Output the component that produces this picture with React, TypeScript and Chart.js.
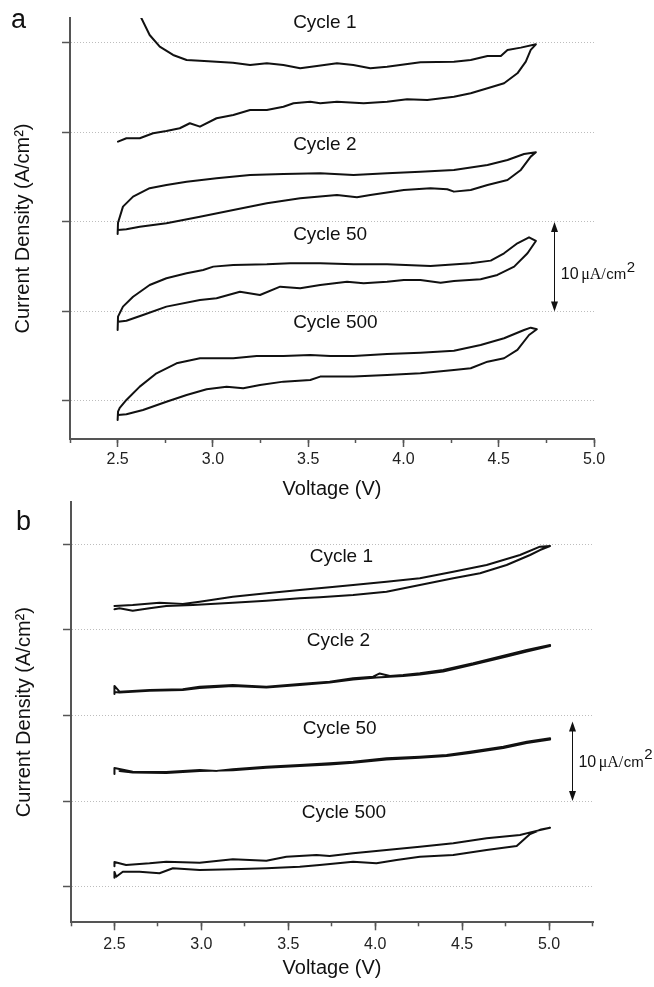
import React, { useEffect, useRef } from 'react';
import { Chart, registerables } from 'chart.js';

Chart.register(...registerables);

const SANS = '"Liberation Sans", Arial, Helvetica, sans-serif';
const SERIF = '"Liberation Serif", "Times New Roman", serif';
const LINE = '#111111';
const AXIS = '#555555';

// ---------- Panel a (voltage V, current density µA/cm² offset per cycle) ----------
const aCycle1V = [2.603, 2.625, 2.668, 2.721, 2.791, 2.862, 2.932, 3.019, 3.105, 3.195, 3.283, 3.37, 3.458, 3.546, 3.651, 3.737, 3.826, 3.914, 4.089, 4.265, 4.353, 4.441, 4.511, 4.546, 4.616, 4.695,
  4.668, 4.642, 4.598, 4.528, 4.441, 4.353, 4.265, 4.125, 4.019, 3.914, 3.791, 3.651, 3.563, 3.511, 3.423, 3.37, 3.283, 3.195, 3.107, 3.019, 2.932, 2.879, 2.826, 2.756, 2.686, 2.616, 2.546, 2.502];
const aCycle1I = [43.7, 42.76, 40.89, 39.59, 38.66, 38.1, 38.02, 37.91, 37.8, 37.54, 37.73, 37.54, 37.17, 37.43, 37.73, 37.54, 37.17, 37.35, 37.84, 37.91, 38.1, 38.55, 38.55, 39.22, 39.48, 39.85,
  39.22, 37.91, 36.61, 35.5, 34.94, 34.38, 34.0, 33.63, 33.71, 33.44, 33.26, 33.44, 33.26, 33.44, 33.26, 32.88, 32.51, 32.51, 31.96, 31.59, 30.65, 31.03, 30.47, 30.17, 29.91, 29.35, 29.35, 28.97];

const aCycle2V = [2.5, 2.502, 2.528, 2.581, 2.668, 2.756, 2.862, 3.019, 3.195, 3.37, 3.563, 3.738, 3.914, 4.089, 4.265, 4.441, 4.546, 4.633, 4.695,
  4.668, 4.616, 4.546, 4.441, 4.353, 4.265, 4.23, 4.142, 4.002, 3.826, 3.756, 3.651, 3.458, 3.283, 3.107, 2.932, 2.756, 2.616, 2.546, 2.502];
const aCycle2I = [18.66, 19.92, 21.71, 22.83, 23.77, 24.13, 24.5, 24.88, 25.25, 25.36, 25.44, 25.25, 25.44, 25.62, 25.81, 26.37, 26.93, 27.6, 27.79,
  27.3, 25.81, 24.69, 24.13, 23.58, 23.39, 23.65, 23.77, 23.58, 23.02, 22.76, 23.02, 22.65, 22.08, 21.34, 20.59, 19.85, 19.47, 19.18, 19.11];

const aCycle50V = [2.5, 2.502, 2.528, 2.581, 2.668, 2.756, 2.862, 2.949, 3.002, 3.107, 3.283, 3.405, 3.563, 3.738, 3.914, 4.142, 4.353, 4.458, 4.528, 4.598, 4.659, 4.695,
  4.651, 4.581, 4.493, 4.405, 4.265, 4.195, 4.089, 4.002, 3.914, 3.791, 3.704, 3.563, 3.458, 3.353, 3.247, 3.142, 3.019, 2.932, 2.756, 2.633, 2.546, 2.502];
const aCycle50I = [7.93, 9.42, 10.54, 11.65, 12.96, 13.71, 14.27, 14.64, 15.01, 15.2, 15.27, 15.39, 15.39, 15.27, 15.27, 15.08, 15.39, 15.68, 16.5, 17.62, 18.29, 17.88,
  16.5, 15.01, 14.08, 13.6, 13.41, 13.22, 13.52, 13.52, 13.33, 13.15, 13.33, 12.96, 12.59, 12.77, 11.84, 12.21, 11.47, 11.28, 10.54, 9.61, 8.97, 8.86];

const aCycle500V = [2.5, 2.502, 2.511, 2.546, 2.616, 2.704, 2.809, 2.932, 3.107, 3.23, 3.37, 3.511, 3.616, 3.738, 3.914, 4.089, 4.265, 4.405, 4.528, 4.633, 4.668, 4.7,
  4.659, 4.598, 4.528, 4.441, 4.353, 4.265, 4.089, 3.914, 3.738, 3.563, 3.511, 3.37, 3.247, 3.159, 3.072, 2.967, 2.862, 2.756, 2.633, 2.546, 2.502];
const aCycle500I = [-2.12, -1.2, -0.78, 0.11, 1.6, 3.09, 4.21, 4.77, 4.77, 5.03, 5.03, 5.14, 5.03, 5.03, 5.25, 5.4, 5.62, 6.26, 7.01, 7.93, 8.19, 8.01,
  7.37, 5.7, 4.77, 4.39, 3.65, 3.46, 3.09, 2.91, 2.72, 2.72, 2.35, 2.16, 1.79, 1.42, 1.6, 1.31, 0.67, -0.08, -1.01, -1.49, -1.56];

// ---------- Panel b ----------
const bCycle1V = [2.5, 2.605, 2.759, 2.893, 2.99, 3.181, 3.374, 3.566, 3.738, 3.873, 4.065, 4.257, 4.449, 4.641, 4.833, 4.948, 5.006,
  4.948, 4.891, 4.756, 4.603, 4.449, 4.257, 4.065, 3.873, 3.681, 3.566, 3.374, 3.181, 2.951, 2.798, 2.702, 2.605, 2.529, 2.5];
const bCycle1I = [32.79, 32.91, 33.18, 33.03, 33.29, 33.88, 34.28, 34.66, 34.98, 35.25, 35.63, 36.03, 36.8, 37.58, 38.75, 39.72, 39.8,
  39.33, 38.75, 37.58, 36.61, 36.03, 35.25, 34.46, 34.08, 33.81, 33.69, 33.41, 33.18, 32.91, 32.79, 32.52, 32.24, 32.52, 32.41];

const bCycle2V = [2.5, 2.5, 2.529, 2.702, 2.893, 2.99, 3.181, 3.374, 3.566, 3.738, 3.873, 3.988, 4.026, 4.084, 4.161, 4.257, 4.391, 4.564, 4.756, 4.872, 5.006,
  5.006, 4.872, 4.756, 4.564, 4.391, 4.257, 4.161, 4.007, 3.873, 3.738, 3.566, 3.374, 3.181, 2.99, 2.893, 2.702, 2.529, 2.5];
const bCycle2I = [22.51, 23.45, 22.78, 22.98, 23.06, 23.36, 23.56, 23.36, 23.68, 23.95, 24.35, 24.53, 24.91, 24.61, 24.73, 24.93, 25.32, 26.1, 27.07, 27.65, 28.24,
  28.12, 27.48, 26.89, 25.96, 25.14, 24.79, 24.61, 24.44, 24.21, 23.86, 23.57, 23.27, 23.45, 23.21, 22.98, 22.88, 22.69, 22.74];

const bCycle50V = [2.5, 2.5, 2.605, 2.798, 2.99, 3.086, 3.181, 3.374, 3.566, 3.738, 3.873, 4.065, 4.257, 4.411, 4.545, 4.737, 4.872, 5.006,
  5.006, 4.872, 4.737, 4.545, 4.411, 4.257, 4.065, 3.873, 3.738, 3.566, 3.374, 3.181, 2.99, 2.798, 2.605, 2.529];
const bCycle50I = [13.17, 13.87, 13.43, 13.4, 13.63, 13.52, 13.71, 14.02, 14.22, 14.42, 14.6, 15.0, 15.19, 15.39, 15.77, 16.36, 16.94, 17.34,
  17.2, 16.79, 16.2, 15.62, 15.27, 15.06, 14.86, 14.47, 14.27, 14.1, 13.89, 13.6, 13.52, 13.29, 13.34, 13.52];

const bCycle500V = [2.5, 2.5, 2.567, 2.702, 2.798, 2.99, 3.181, 3.374, 3.489, 3.662, 3.738, 3.873, 4.065, 4.257, 4.449, 4.641, 4.833, 4.91, 5.006,
  4.954, 4.891, 4.814, 4.641, 4.449, 4.257, 4.123, 4.007, 3.873, 3.681, 3.566, 3.374, 3.181, 2.99, 2.836, 2.759, 2.644, 2.548, 2.51, 2.5, 2.5];
const bCycle500I = [2.4, 2.88, 2.54, 2.73, 2.92, 2.8, 3.2, 3.04, 3.5, 3.7, 3.59, 3.9, 4.29, 4.67, 5.07, 5.65, 6.04, 6.43, 6.89,
  6.68, 6.16, 4.75, 4.29, 3.7, 3.5, 3.12, 2.73, 2.92, 2.54, 2.34, 2.15, 2.03, 1.95, 2.15, 1.57, 1.75, 1.75, 1.17, 1.72, 1.05];

// ---------- annotations (data coordinates) ----------
const cycleNames = ['Cycle 1', 'Cycle 2', 'Cycle 50', 'Cycle 500'];
const aLabelV = [3.421, 3.421, 3.421, 3.421];
const aLabelI = [42.29, 28.6, 18.6, 8.7];
const bLabelV = [3.623, 3.606, 3.583, 3.577];
const bLabelI = [38.6, 28.7, 18.5, 8.6];
const aScaleBar = { v: 4.789, low: 10, high: 20, textV: 4.826, textI: 13.58 };
const bScaleBar = { v: 5.131, low: 10, high: 19.3, textV: 5.169, textI: 14.02 };

const xTitle = 'Voltage (V)';
const yTitle = 'Current Density (A/cm²)';

type PanelCfg = {
  letter: string; letterX: number; letterY: number;
  cycles: { v: number[]; i: number[] }[];
  xMin: number; xMax: number; yMin: number; yMax: number;
  labelV: number[]; labelI: number[];
  bar: { v: number; low: number; high: number; textV: number; textI: number };
  padTop: number; padRight: number; yAxisWidth: number; xAxisHeight: number;
  xTitlePadBottom: number; tickPad: number; yTitlePad: number;
};

function makeAnnotations(p: PanelCfg) {
  return {
    id: 'cvAnnotations',
    afterDraw(chart: any) {
      const ctx: CanvasRenderingContext2D = chart.ctx;
      const xs = chart.scales.x;
      const ys = chart.scales.y;
      ctx.save();
      ctx.fillStyle = '#111';
      // panel letter
      ctx.font = `27px ${SANS}`;
      ctx.textAlign = 'left';
      ctx.textBaseline = 'alphabetic';
      ctx.fillText(p.letter, p.letterX, p.letterY);
      // cycle labels
      ctx.font = `19px ${SANS}`;
      ctx.textBaseline = 'middle';
      cycleNames.forEach((name, k) => {
        ctx.fillText(name, xs.getPixelForValue(p.labelV[k]), ys.getPixelForValue(p.labelI[k]));
      });
      // scale bar arrow
      const x = Math.round(xs.getPixelForValue(p.bar.v)) + 0.5;
      const yTop = ys.getPixelForValue(p.bar.high);
      const yBot = ys.getPixelForValue(p.bar.low);
      ctx.strokeStyle = '#111';
      ctx.lineWidth = 1;
      ctx.beginPath();
      ctx.moveTo(x, yTop + 5);
      ctx.lineTo(x, yBot - 5);
      ctx.stroke();
      ctx.beginPath();
      ctx.moveTo(x, yTop);
      ctx.lineTo(x - 3.5, yTop + 10);
      ctx.lineTo(x + 3.5, yTop + 10);
      ctx.closePath();
      ctx.fill();
      ctx.beginPath();
      ctx.moveTo(x, yBot);
      ctx.lineTo(x - 3.5, yBot - 10);
      ctx.lineTo(x + 3.5, yBot - 10);
      ctx.closePath();
      ctx.fill();
      // scale bar text
      let tx = xs.getPixelForValue(p.bar.textV);
      const ty = ys.getPixelForValue(p.bar.textI);
      ctx.textBaseline = 'alphabetic';
      const parts: [string, string, number, number][] = [
        ['10', `16px ${SANS}`, 0, 2.5],
        ['\u03bcA/', `16px ${SERIF}`, 0, 0.5],
        ['cm', `15px ${SANS}`, 0, 0.5],
        ['2', `15px ${SANS}`, -7.5, 0],
      ];
      parts.forEach(([t, f, dy, gap]) => {
        ctx.font = f;
        ctx.fillText(t, tx, ty + dy);
        tx += ctx.measureText(t).width + gap;
      });
      ctx.restore();
    },
  };
}

function buildConfig(p: PanelCfg): any {
  const datasets = p.cycles.map((c) => ({
    data: c.v.map((v, k) => ({ x: v, y: c.i[k] })),
    showLine: true,
    pointRadius: 0,
    pointHoverRadius: 0,
    borderColor: LINE,
    borderWidth: 2,
    borderJoinStyle: 'round',
    borderCapStyle: 'round',
    tension: 0,
    fill: false,
  }));
  const tickFont = { family: SANS, size: 16 };
  const titleFont = { family: SANS, size: 20 };
  return {
    type: 'scatter',
    data: { datasets },
    options: {
      responsive: false,
      animation: false,
      events: [],
      layout: { padding: { top: p.padTop, right: p.padRight, left: 0, bottom: 0 } },
      plugins: { legend: { display: false }, tooltip: { enabled: false } },
      scales: {
        x: {
          type: 'linear',
          position: 'bottom',
          weight: 1,
          min: p.xMin,
          max: p.xMax,
          ticks: {
            stepSize: 0.5,
            includeBounds: false,
            autoSkip: false,
            maxRotation: 0,
            padding: p.tickPad,
            color: '#222',
            font: tickFont,
            callback: (v: any) => Number(v).toFixed(1),
          },
          grid: { drawOnChartArea: false, drawTicks: true, tickLength: 8, tickColor: AXIS, tickWidth: 1.5, color: AXIS },
          border: { display: true, color: AXIS, width: 2 },
          title: { display: true, text: xTitle, color: '#111', font: titleFont, padding: { top: 0, bottom: p.xTitlePadBottom } },
          afterFit: (s: any) => { s.height = p.xAxisHeight; },
        },
        x2: {
          type: 'linear',
          position: 'bottom',
          weight: 0,
          min: p.xMin,
          max: p.xMax,
          ticks: { display: false, stepSize: 0.25, includeBounds: false, autoSkip: false },
          grid: { drawOnChartArea: false, drawTicks: true, tickLength: 4, tickColor: AXIS, tickWidth: 1.5, color: AXIS },
          border: { display: false },
          afterFit: (s: any) => { s.height = 0; },
        },
        y: {
          type: 'linear',
          position: 'left',
          min: p.yMin,
          max: p.yMax,
          ticks: { display: false, stepSize: 10, includeBounds: false },
          grid: { drawOnChartArea: true, drawTicks: true, tickLength: 8, color: '#bdbdbd', lineWidth: 1, tickColor: AXIS, tickWidth: 1.5, tickBorderDash: [] },
          border: { display: true, color: AXIS, width: 2, dash: [1, 2] },
          title: { display: true, text: yTitle, color: '#111', font: titleFont, padding: { top: p.yTitlePad, bottom: 0 } },
          afterFit: (s: any) => { s.width = p.yAxisWidth; },
        },
      },
    },
    plugins: [makeAnnotations(p)],
  };
}

const panelA: PanelCfg = {
  letter: 'a', letterX: 11, letterY: 28,
  cycles: [
    { v: aCycle1V, i: aCycle1I },
    { v: aCycle2V, i: aCycle2I },
    { v: aCycle50V, i: aCycle50I },
    { v: aCycle500V, i: aCycle500I },
  ],
  xMin: 2.25, xMax: 5.0, yMin: -4.25, yMax: 42.79,
  labelV: aLabelV, labelI: aLabelI, bar: aScaleBar,
  padTop: 18, padRight: 60, yAxisWidth: 70, xAxisHeight: 71,
  xTitlePadBottom: 8.5, tickPad: 3, yTitlePad: 11,
};

const panelB: PanelCfg = {
  letter: 'b', letterX: 16, letterY: 35,
  cycles: [
    { v: bCycle1V, i: bCycle1I },
    { v: bCycle2V, i: bCycle2I },
    { v: bCycle50V, i: bCycle50I },
    { v: bCycle500V, i: bCycle500I },
  ],
  xMin: 2.25, xMax: 5.253, yMin: -4.16, yMax: 44.94,
  labelV: bLabelV, labelI: bLabelI, bar: bScaleBar,
  padTop: 7, padRight: 61, yAxisWidth: 71, xAxisHeight: 64.7,
  xTitlePadBottom: 7, tickPad: 4.5, yTitlePad: 12,
};

function ChartPanel({ cfg, top, height }: { cfg: PanelCfg; top: number; height: number }) {
  const ref = useRef<HTMLCanvasElement>(null);
  useEffect(() => {
    const chart = new Chart(ref.current as HTMLCanvasElement, buildConfig(cfg));
    return () => chart.destroy();
  }, [cfg]);
  return (
    <canvas
      ref={ref}
      width={654}
      height={height}
      style={{ position: 'absolute', left: 0, top, width: 654, height }}
    />
  );
}

export default function App() {
  return (
    <div style={{ position: 'absolute', left: 0, top: 0, width: 654, height: 987, background: '#fff' }}>
      <ChartPanel cfg={panelA} top={0} height={510} />
      <ChartPanel cfg={panelB} top={495} height={492} />
    </div>
  );
}
